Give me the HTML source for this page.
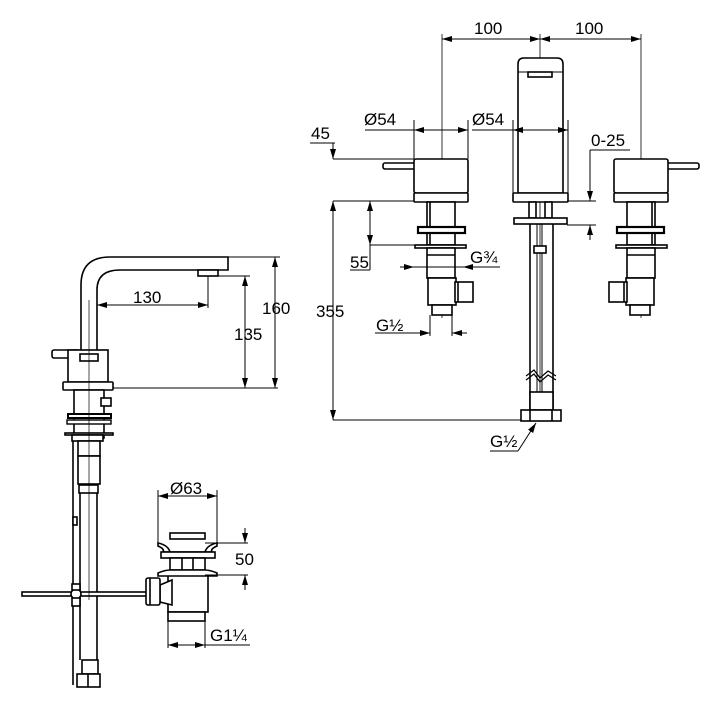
<!DOCTYPE html>
<html><head><meta charset="utf-8"><style>
html,body{margin:0;padding:0;background:#fff}
svg{display:block}
text{font-family:"Liberation Sans",Arial,sans-serif;font-size:17px;fill:#000}
</style></head><body>
<svg width="720" height="708" viewBox="0 0 720 708" xmlns="http://www.w3.org/2000/svg">
<defs>
<marker id="a" viewBox="0 0 10 6" refX="10" refY="3" markerWidth="10" markerHeight="6" orient="auto-start-reverse" markerUnits="userSpaceOnUse"><path d="M0,0 L10,3 L0,6 z" fill="#000"/></marker>
<g id="valve" fill="#fff" stroke="#000" stroke-width="1.6">
  <rect x="383" y="163" width="36" height="6" rx="2"/>
  <rect x="414" y="159" width="54" height="34" rx="2"/>
  <rect x="414" y="193" width="54" height="9" rx="1"/>
  <rect x="427" y="202" width="28" height="43"/>
  <line x1="430" y1="202" x2="430" y2="245"/>
  <rect x="418" y="227" width="47" height="6" stroke-width="2.2"/>
  <rect x="415" y="245" width="51" height="3"/>
  <rect x="427" y="248" width="28" height="30"/>
  <line x1="427" y1="255" x2="455" y2="255"/>
  <rect x="428" y="278" width="28" height="27"/>
  <rect x="455" y="282" width="18" height="20"/>
  <line x1="458" y1="282" x2="458" y2="302"/>
  <rect x="432" y="305" width="20" height="10"/>
</g>
</defs>
<g stroke="#000" stroke-width="1" fill="none">
<line x1="442" y1="34" x2="442" y2="318" stroke-width="0.8"/>
<line x1="540" y1="34" x2="540" y2="410" stroke-width="0.8"/>
<line x1="641" y1="34" x2="641" y2="318" stroke-width="0.8"/>
<line x1="442" y1="39" x2="540" y2="39" marker-start="url(#a)" marker-end="url(#a)"/>
<line x1="540" y1="39" x2="641" y2="39" marker-start="url(#a)" marker-end="url(#a)"/>
</g>
<use href="#valve"/>
<use href="#valve" transform="translate(1082,0) scale(-1,1)"/>
<g fill="#fff" stroke="#000" stroke-width="1.6">
  <path d="M518,193 L518,64 Q518,58 524,58 L557,58 Q563,58 563,64 L563,193 z"/>
  <path d="M518,72 L563,72" fill="none" stroke-width="1"/>
  <rect x="528" y="72" width="24" height="5"/>
  <rect x="513" y="193" width="55" height="9" rx="1"/>
  <rect x="529" y="202" width="7" height="16"/>
  <rect x="545" y="202" width="7" height="16"/>
  <rect x="514" y="218" width="53" height="6"/>
  <line x1="530" y1="224" x2="530" y2="410"/>
  <line x1="553" y1="224" x2="553" y2="410"/>
  <line x1="537" y1="224" x2="537" y2="410" stroke-width="1"/>
  <line x1="542" y1="224" x2="542" y2="410" stroke-width="1"/>
  <rect x="534" y="246" width="12" height="7"/>
  <path d="M526,376 L534,370 L540,378 L548,371 L556,376" fill="none" stroke-width="1.2"/>
  <path d="M526,380 L534,374 L540,382 L548,375 L556,380" fill="none" stroke-width="1.2"/>
  <rect x="530" y="392" width="23" height="18"/>
  <rect x="521" y="410" width="40" height="11"/>
  <line x1="530" y1="410" x2="530" y2="421"/><line x1="552" y1="410" x2="552" y2="421"/>
</g>
<g stroke="#000" stroke-width="1" fill="none">
  <line x1="414" y1="120" x2="414" y2="159"/><line x1="468" y1="120" x2="468" y2="159"/>
  <line x1="365" y1="130" x2="468" y2="130"/>
  <line x1="414" y1="130" x2="440" y2="130" marker-start="url(#a)"/><line x1="442" y1="130" x2="468" y2="130" marker-end="url(#a)"/>
  <line x1="513" y1="120" x2="513" y2="193"/><line x1="568" y1="120" x2="568" y2="193"/>
  <line x1="472" y1="130" x2="568" y2="130"/>
  <line x1="513" y1="130" x2="530" y2="130" marker-start="url(#a)"/><line x1="550" y1="130" x2="568" y2="130" marker-end="url(#a)"/>
  <line x1="310" y1="143" x2="335" y2="143"/>
  <line x1="333" y1="143" x2="333" y2="159" marker-end="url(#a)"/>
  <line x1="333" y1="159" x2="414" y2="159"/>
  <line x1="333" y1="201" x2="414" y2="201"/>
  <line x1="333" y1="201" x2="333" y2="420" marker-start="url(#a)" marker-end="url(#a)"/>
  <line x1="333" y1="420" x2="521" y2="420"/>
  <line x1="370" y1="201" x2="370" y2="245" marker-start="url(#a)" marker-end="url(#a)"/>
  <line x1="370" y1="245" x2="415" y2="245"/>
  <line x1="350" y1="270" x2="370" y2="270"/><line x1="370" y1="245" x2="370" y2="270"/>
  <line x1="400" y1="267" x2="414" y2="267" marker-end="url(#a)"/>
  <line x1="478" y1="267" x2="463" y2="267" marker-end="url(#a)"/>
  <line x1="414" y1="267" x2="500" y2="267"/>
  <line x1="430" y1="315" x2="430" y2="336"/><line x1="452" y1="315" x2="452" y2="336"/>
  <line x1="375" y1="333" x2="430" y2="333"/>
  <line x1="415" y1="333" x2="430" y2="333" marker-end="url(#a)"/>
  <line x1="467" y1="333" x2="452" y2="333" marker-end="url(#a)"/>
  <line x1="590" y1="150" x2="630" y2="150"/>
  <line x1="590" y1="150" x2="590" y2="201" marker-end="url(#a)"/>
  <line x1="590" y1="240" x2="590" y2="225" marker-end="url(#a)"/>
  <line x1="567" y1="201" x2="596" y2="201"/><line x1="567" y1="225" x2="596" y2="225"/>
  <line x1="490" y1="451" x2="518" y2="451"/>
  <line x1="518" y1="451" x2="536" y2="423" marker-end="url(#a)"/>
</g>
<text x="474" y="34">100</text><text x="575" y="34">100</text>
<text x="364" y="125">Ø54</text><text x="472" y="125">Ø54</text>
<text x="311" y="139">45</text><text x="591" y="146">0-25</text>
<text x="316" y="317">355</text><text x="350" y="268">55</text>
<text x="470" y="263">G¾</text><text x="376" y="331">G½</text>
<text x="490" y="447">G½</text>

<g fill="#fff" stroke="#000" stroke-width="1.6">
  <path d="M81,351 L81,285 Q81,257 110,257 L228,257 L228,270 L120,270 Q97,270 97,290 L97,351"/>
  <rect x="198" y="270" width="20" height="6"/>
  <rect x="52" y="350" width="28" height="8" rx="2"/>
  <rect x="68" y="350" width="40" height="32"/>
  <rect x="80" y="354" width="18" height="7"/>
  <rect x="63" y="382" width="50" height="8" rx="1"/>
  <rect x="74" y="390" width="30" height="48"/>
  <rect x="101" y="398" width="10" height="8"/>
  <rect x="68" y="414" width="43" height="4" stroke-width="2"/>
  <rect x="67" y="420" width="44" height="4" stroke-width="1.4"/>
  <rect x="65" y="433" width="48" height="2"/>
  <rect x="72" y="435" width="31" height="6"/>
  <rect x="78" y="441" width="22" height="15"/>
  <rect x="78" y="456" width="22" height="28"/>
  <rect x="79" y="485" width="19" height="8"/>
  <line x1="73" y1="441" x2="73" y2="685"/>
  <line x1="80" y1="493" x2="80" y2="660"/><line x1="97" y1="493" x2="97" y2="660"/>
  <rect x="73" y="517" width="4" height="8"/>
  <rect x="22" y="592" width="126" height="4"/>
  <circle cx="76" cy="594" r="5"/>
  <rect x="72" y="584" width="8" height="6"/><rect x="72" y="598" width="8" height="8"/>
  <rect x="82" y="660" width="16" height="14"/>
  <rect x="77" y="674" width="23" height="13"/>
  <line x1="88" y1="674" x2="88" y2="687"/>
  <rect x="168" y="575" width="40" height="37"/>
  <rect x="168" y="612" width="37" height="9"/>
  <path d="M160,585 L172,580 L172,605 L160,602 z"/>
  <rect x="146" y="578" width="14" height="27" rx="2"/>
  <line x1="150" y1="578" x2="150" y2="605"/>
  <path d="M158,543 Q168,545 170,552 L205,552 Q207,545 217,543 L217,546 Q210,549 212,552 L163,552 Q165,549 158,546 Z"/>
  <rect x="170" y="533" width="35" height="6"/>
  <rect x="161" y="552" width="54" height="6"/>
  <rect x="170" y="558" width="35" height="12"/>
  <line x1="182" y1="558" x2="182" y2="570"/><line x1="193" y1="558" x2="193" y2="570"/>
  <path d="M158,573 Q165,570 170,570 L205,570 Q210,570 217,573 L217,576 L158,576 Z"/>
</g>
<g stroke="#000" stroke-width="1" fill="none">
  <line x1="89" y1="300" x2="89" y2="600" stroke-width="0.7"/>
  <line x1="97" y1="305" x2="208" y2="305" marker-start="url(#a)" marker-end="url(#a)"/>
  <line x1="208" y1="276" x2="208" y2="308"/>
  <line x1="218" y1="276" x2="250" y2="276"/>
  <line x1="228" y1="257" x2="280" y2="257"/>
  <line x1="245" y1="276" x2="245" y2="388" marker-start="url(#a)" marker-end="url(#a)"/>
  <line x1="275" y1="257" x2="275" y2="388" marker-start="url(#a)" marker-end="url(#a)"/>
  <line x1="113" y1="388" x2="278" y2="388"/>
  <line x1="158" y1="490" x2="158" y2="545"/><line x1="217" y1="490" x2="217" y2="545"/>
  <line x1="158" y1="496" x2="217" y2="496" marker-start="url(#a)" marker-end="url(#a)"/>
  <line x1="205" y1="543" x2="248" y2="543"/>
  <line x1="205" y1="575" x2="248" y2="575"/>
  <line x1="245" y1="528" x2="245" y2="543" marker-end="url(#a)"/>
  <line x1="245" y1="590" x2="245" y2="575" marker-end="url(#a)"/>
  <line x1="168" y1="621" x2="168" y2="648"/><line x1="205" y1="621" x2="205" y2="648"/>
  <line x1="168" y1="645" x2="250" y2="645"/>
  <line x1="168" y1="645" x2="184" y2="645" marker-start="url(#a)"/>
  <line x1="190" y1="645" x2="205" y2="645" marker-end="url(#a)"/>
</g>
<text x="133" y="303">130</text><text x="234" y="340">135</text>
<text x="262" y="314">160</text><text x="170" y="494">Ø63</text>
<text x="235" y="565">50</text><text x="210" y="641">G1¼</text>
</svg>
</body></html>
